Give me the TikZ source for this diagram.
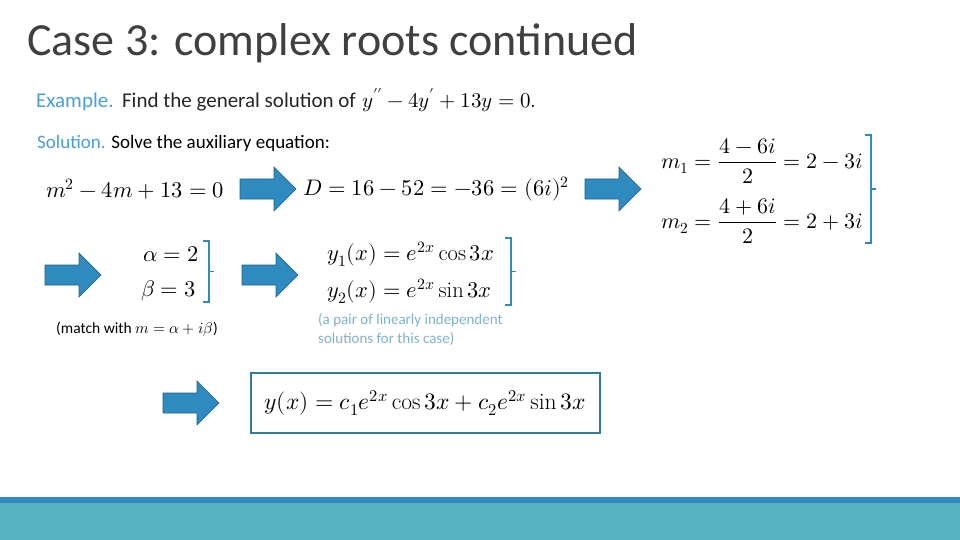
\documentclass[tikz,border=0pt]{standalone}
\usepackage{amsmath}
\usepackage{unicode-math}
\setmathfont{Latin Modern Math}
\setsansfont{Carlito}
\newfontfamily\titlefont{Carlito}
\definecolor{arrowblue}{HTML}{2F8BBF}
\definecolor{exblue}{HTML}{4A9FD4}
\definecolor{teal}{HTML}{58B3C0}
\definecolor{boxc}{HTML}{2E7D9A}
\definecolor{lightblue}{HTML}{7FB3CC}
\tikzset{
  barrow/.style={draw=arrowblue!70!black, fill=arrowblue, line width=0.6pt},
  brk/.style={draw=arrowblue, line width=1.6pt},
  eq/.style={font=\fontsize{22.5}{26}\selectfont, anchor=west, inner sep=0pt},
}
\newcommand{\blockarrow}[3]{% x, y, name
  \fill[barrow] (#1,#2-10) -- (#1+34,#2-10) -- (#1+34,#2-22) -- (#1+56,#2) -- (#1+34,#2+22) -- (#1+34,#2+10) -- (#1,#2+10) -- cycle;
  \coordinate (#3) at (#1+28,#2);
}
\newcommand{\rbrk}[4]{% x, ytop, ybot, name
  \draw[brk] (#1,#2) -- (#1+6,#2) -- (#1+6,#3) -- (#1,#3);
  \draw[brk] (#1+6,{(#2+#3)/2}) -- (#1+11,{(#2+#3)/2});
  \coordinate (#4) at (#1,#2);
}
\begin{document}
\begin{tikzpicture}[x=1pt,y=-1pt]
\useasboundingbox (0,0) rectangle (960,540);
\fill[white] (0,0) rectangle (960,540);
\fill[arrowblue] (0,497) rectangle (960,503);
\fill[teal] (0,503) rectangle (960,540);
\node[anchor=west, inner sep=0pt, text=black!75, font=\titlefont\fontsize{46}{50}\selectfont] (title) at (27,43) {Case 3: complex roots continued};
\node[anchor=west, inner sep=0pt, font=\fontsize{21}{24}\selectfont] (ex) at (36,100) {\textcolor{exblue}{\sffamily Example.} {\sffamily\color{black!85} Find the general solution of} $y^{\prime\prime}-4y^{\prime}+13y=0.$};
\node[anchor=west, inner sep=0pt, font=\sffamily\fontsize{19}{22}\selectfont] (sol) at (37,143) {\textcolor{exblue}{Solution.} Solve the auxiliary equation:};
\node[eq] (e1) at (46,189) {$m^2-4m+13=0$};
\blockarrow{240}{189}{a1}
\node[eq] (e2) at (303,189) {$D=16-52=-36=(6i)^2$};
\blockarrow{585}{189}{a2}
\node[eq, font=\fontsize{22}{26}\selectfont] (m1) at (661,161) {$m_1=\dfrac{4-6i}{2}=2-3i$};
\node[eq, font=\fontsize{22}{26}\selectfont] (m2) at (661,221) {$m_2=\dfrac{4+6i}{2}=2+3i$};
\rbrk{865}{135}{243}{b3}
\blockarrow{45}{275}{a3}
\node[eq] (al) at (143,254) {$\alpha=2$};
\node[eq] (be) at (141,291) {$\beta=3$};
\rbrk{203}{241}{302}{b1}
\node[anchor=west, inner sep=0pt, font=\sffamily\fontsize{15.5}{18}\selectfont] (match) at (56,329) {(match with $m=\alpha+i\beta$)};
\blockarrow{242}{275}{a4}
\node[eq] (y1) at (327,254) {$y_1(x)=e^{2x}\cos 3x$};
\node[eq] (y2) at (327,291) {$y_2(x)=e^{2x}\sin 3x$};
\rbrk{505}{238}{305}{b2}
\node[anchor=north west, inner sep=0pt, align=left, text=lightblue, font=\sffamily\fontsize{15}{19}\selectfont] (pair) at (318,313) {(a pair of linearly independent\\solutions for this case)};
\blockarrow{163}{403}{a5}
\node[draw=boxc, line width=1.6pt, minimum width=349pt, minimum height=60pt, anchor=north west] (box) at (250,372) {};
\node[eq, anchor=center, font=\fontsize{23.5}{27}\selectfont] (gen) at (box.center) {$y(x)=c_1e^{2x}\cos 3x+c_2e^{2x}\sin 3x$};
\end{tikzpicture}
\end{document}
